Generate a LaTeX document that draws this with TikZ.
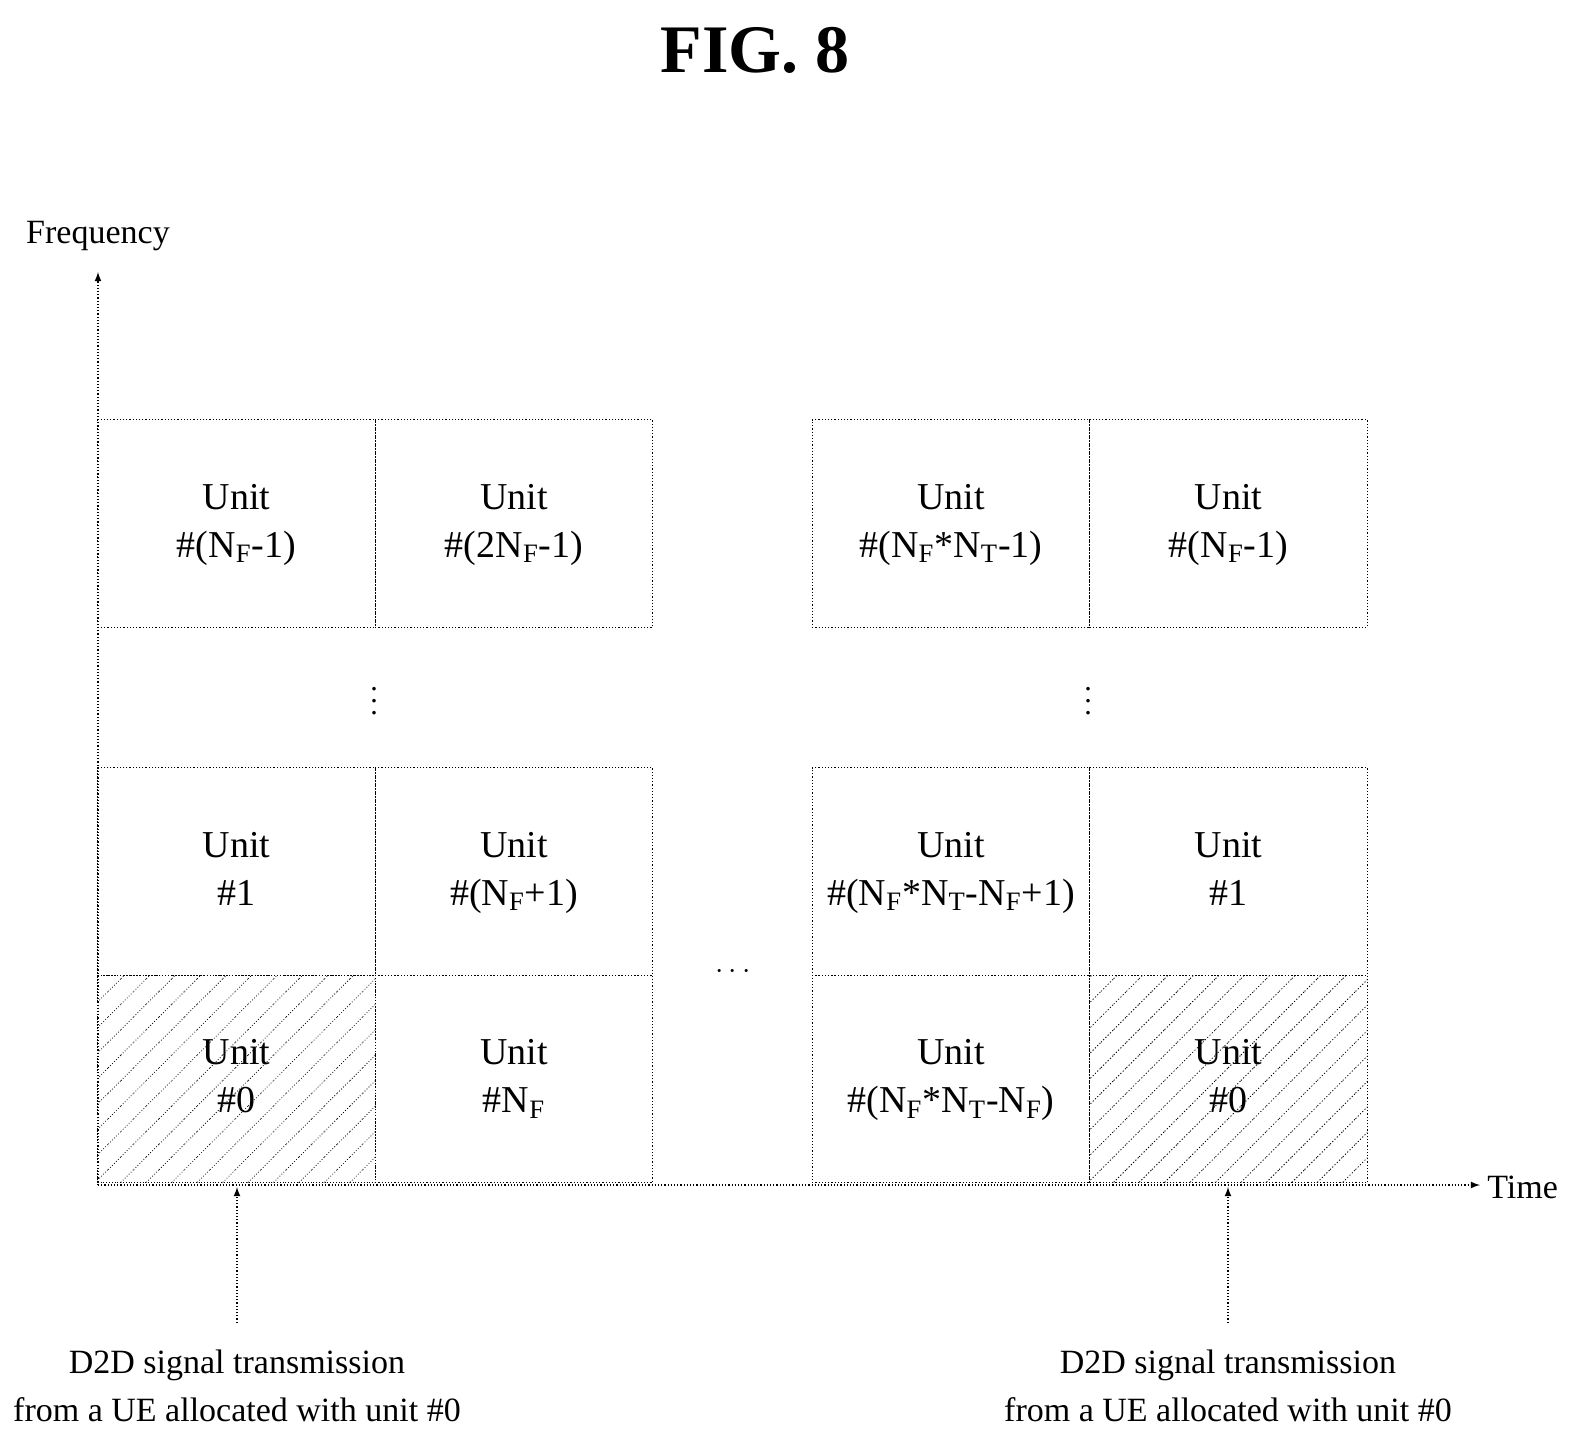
\documentclass[tikz,border=0pt]{standalone}
\usepackage{fontspec}
\setmainfont{Liberation Serif}
\usetikzlibrary{patterns.meta}
\begin{document}
\tikzset{every picture/.style={line width=0.6pt}}
\begin{tikzpicture}[x=0.5pt,y=-0.5pt,
  cell/.style={draw,densely dotted,minimum width=138.75pt,minimum height=103.75pt,inner sep=0pt,align=center,font=\fontsize{19}{24}\selectfont},
  hatch/.style={pattern={Lines[angle=45,distance=9pt,line width=0.4pt]}},
  lbl/.style={font=\fontsize{17}{24}\selectfont,align=center}]
\useasboundingbox (0,0) rectangle (1580,1456);

% Title
\node (title) at (755,50) {\fontsize{34}{40}\selectfont\bfseries FIG. 8};

% Axes
\coordinate (o) at (98,1185);
\coordinate (ftop) at (98,272);
\coordinate (tend) at (1480,1185);
\draw[densely dotted,-latex] (o) -- (ftop);
\draw[densely dotted,-latex] (o) -- (tend);
\node[lbl,anchor=south] (freq) at (98,258) {Frequency};
\node[lbl,anchor=west] (time) at (1480,1187) {Time};

% Left block
\node[cell,hatch] (l00) at (236.5,1079) {};
\node[cell] (l10) at (514,1079) {Unit\strut\\\#N$_\mathrm{F}$\strut};
\node[cell] (l01) at (236.5,871.5) {Unit\strut\\\#1\strut};
\node[cell] (l11) at (514,871.5) {Unit\strut\\\#(N$_\mathrm{F}$+1)\strut};
\node[cell] (l02) at (236.5,523.5) {Unit\strut\\\#(N$_\mathrm{F}$-1)\strut};
\node[cell] (l12) at (514,523.5) {Unit\strut\\\#(2N$_\mathrm{F}$-1)\strut};
\node[align=center,font=\fontsize{19}{24}\selectfont] (l00t) at (l00) {Unit\strut\\\#0\strut};

% Right block
\node[cell] (r00) at (951,1079) {Unit\strut\\\#(N$_\mathrm{F}$*N$_\mathrm{T}$-N$_\mathrm{F}$)\strut};
\node[cell,hatch] (r10) at (1228.5,1079) {};
\node[cell] (r01) at (951,871.5) {Unit\strut\\\#(N$_\mathrm{F}$*N$_\mathrm{T}$-N$_\mathrm{F}$+1)\strut};
\node[cell] (r11) at (1228.5,871.5) {Unit\strut\\\#1\strut};
\node[cell] (r02) at (951,523.5) {Unit\strut\\\#(N$_\mathrm{F}$*N$_\mathrm{T}$-1)\strut};
\node[cell] (r12) at (1228.5,523.5) {Unit\strut\\\#(N$_\mathrm{F}$-1)\strut};
\node[align=center,font=\fontsize{19}{24}\selectfont] (r10t) at (r10) {Unit\strut\\\#0\strut};

% Dots
\node[scale=1.5] (vdl) at (374,692) {$\vdots$};
\node[scale=1.5] (vdr) at (1088,692) {$\vdots$};
\node[scale=1.5] (hd) at (733,972) {$\cdots$};

% Transmission labels
\node[lbl] (capl) at (237,1386) {D2D signal transmission\\from a UE allocated with unit \#0};
\node[lbl] (capr) at (1228,1386) {D2D signal transmission\\from a UE allocated with unit \#0};
\draw[densely dotted,-latex] (capl.north) ++(0,-20) coordinate (al) -- (237,1187);
\draw[densely dotted,-latex] (capr.north) ++(0,-20) coordinate (ar) -- (1228,1187);
\end{tikzpicture}
\end{document}
